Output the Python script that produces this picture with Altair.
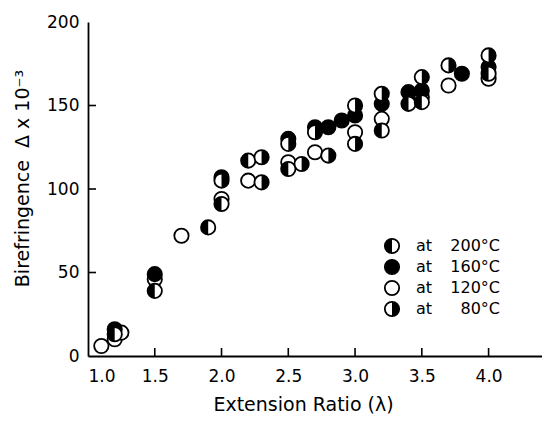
import altair as alt
import pandas as pd

# ---- data ----
x160 = [1.2, 1.5, 2.0, 2.5, 2.7, 2.8, 2.9, 3.0, 3.2, 3.4, 3.5, 3.8, 4.0]
y160 = [16, 49, 107, 130, 137, 137, 141, 144, 151, 158, 159, 169, 173]

x120 = [1.1, 1.2, 1.25, 1.5, 1.7, 2.0, 2.2, 2.5, 2.7, 3.0, 3.2, 3.5, 3.7, 4.0]
y120 = [6, 10, 14, 46, 72, 94, 105, 116, 122, 134, 142, 155, 162, 166]

x200 = [1.2, 1.5, 1.9, 2.0, 2.2, 2.5, 3.2, 3.4, 3.5, 4.0]
y200 = [13, 39, 77, 91, 117, 112, 135, 151, 152, 169]

x80 = [2.0, 2.3, 2.3, 2.5, 2.6, 2.7, 2.8, 3.0, 3.0, 3.2, 3.5, 3.7, 4.0]
y80 = [105, 119, 104, 127, 115, 134, 120, 127, 150, 157, 167, 174, 180]

series_names = ["200", "160", "120", "80"]
legend_temps = ["200°C", "160°C", "120°C", "80°C"]
x_ticks = [1.5, 2.0, 2.5, 3.0, 3.5, 4.0]
y_ticks = [50, 100, 150]
x_labels = [1.0, 1.5, 2.0, 2.5, 3.0, 3.5, 4.0]
y_labels = [0, 50, 100, 150, 200]

rows = []
for s, xs, ys in [("120", x120, y120), ("160", x160, y160),
                  ("200", x200, y200), ("80", x80, y80)]:
    for a, b in zip(xs, ys):
        rows.append({"x": a, "y": b, "series": s})
df = pd.DataFrame(rows)

W, H = 454, 334
FONT = "DejaVu Sans"
SIZE = 205
LEFT_HALF = "M0,-1A1,1,0,0,0,0,1Z"
RIGHT_HALF = "M0,-1A1,1,0,0,1,0,1Z"

xscale = alt.Scale(domain=[1.0, 4.4], nice=False, zero=False)
yscale = alt.Scale(domain=[0, 200], nice=False, zero=False)
XTITLE = "Extension Ratio (λ)"
YTITLE = "Birefringence\u00a0\u00a0Δ\u00a0x\u00a010⁻³"

xaxis = alt.Axis(values=x_labels, format=".1f", ticks=False, grid=False,
                 labelPadding=12, titlePadding=11, titleX=215)
yaxis = alt.Axis(values=y_labels, format="d", ticks=False, grid=False,
                 labelPadding=9, titlePadding=14, titleY=156)


def X(field):
    return alt.X(field, scale=xscale, axis=xaxis, title=XTITLE)


def Y(field):
    return alt.Y(field, scale=yscale, axis=yaxis, title=YTITLE)


fill_scale = alt.Scale(domain=series_names, range=["white", "black", "white", "white"])
shape_scale = alt.Scale(domain=["200", "80"], range=[LEFT_HALF, RIGHT_HALF])

circles = alt.Chart(df).mark_point(
    shape="circle", filled=True, size=SIZE, stroke="black", strokeWidth=1.8,
    opacity=1, fillOpacity=1
).encode(
    x=X("x:Q"), y=Y("y:Q"),
    fill=alt.Fill("series:N", scale=fill_scale, legend=None)
)

halves = alt.Chart(df).transform_filter(
    alt.FieldOneOfPredicate(field="series", oneOf=["200", "80"])
).mark_point(
    filled=True, size=SIZE, fill="black", strokeWidth=0, opacity=1, fillOpacity=1
).encode(
    x=X("x:Q"), y=Y("y:Q"),
    shape=alt.Shape("series:N", scale=shape_scale, legend=None)
)

xt = alt.Chart(pd.DataFrame({"t": x_ticks})).mark_rule(
    color="black", strokeWidth=1.6
).encode(x=X("t:Q"), y=alt.value(H), y2=alt.value(H - 8))

yt = alt.Chart(pd.DataFrame({"t": y_ticks})).mark_rule(
    color="black", strokeWidth=1.6
).encode(y=Y("t:Q"), x=alt.value(0), x2=alt.value(8))

# ---- hand-drawn legend ----
legend_layers = []
leg_x, leg_y0, leg_dy = 304, 224, 21
leg_fill = ["white", "black", "white", "white"]
leg_half = [LEFT_HALF, None, None, RIGHT_HALF]
one = pd.DataFrame({"k": [0]})
for i, (temp, f, hshape) in enumerate(zip(legend_temps, leg_fill, leg_half)):
    yy = leg_y0 + i * leg_dy
    legend_layers.append(
        alt.Chart(one).mark_point(shape="circle", filled=True, size=SIZE,
                                  fill=f, stroke="black", strokeWidth=1.8,
                                  opacity=1, fillOpacity=1)
        .encode(x=alt.value(leg_x), y=alt.value(yy)))
    if hshape:
        legend_layers.append(
            alt.Chart(one).mark_point(shape=hshape, filled=True, size=SIZE,
                                      fill="black", strokeWidth=0, opacity=1,
                                      fillOpacity=1)
            .encode(x=alt.value(leg_x), y=alt.value(yy)))
    legend_layers.append(
        alt.Chart(pd.DataFrame({"label": ["at"]})).mark_text(
            font=FONT, fontSize=16, align="left", baseline="middle", color="black")
        .encode(x=alt.value(leg_x + 24), y=alt.value(yy), text="label:N"))
    legend_layers.append(
        alt.Chart(pd.DataFrame({"label": [temp]})).mark_text(
            font=FONT, fontSize=16, align="right", baseline="middle", color="black")
        .encode(x=alt.value(leg_x + 108), y=alt.value(yy), text="label:N"))

chart = alt.layer(circles, halves, xt, yt, *legend_layers).properties(
    width=W, height=H,
    autosize=alt.AutoSizeParams(type="none"),
    padding={"left": 80, "top": 14, "right": 0, "bottom": 60},
    background="white",
).configure_view(stroke=None).configure_axis(
    domainColor="black", domainWidth=1.8,
    labelFont=FONT, labelFontSize=17, labelColor="black",
    titleFont=FONT, titleFontSize=19, titleFontWeight="normal", titleColor="black",
)

chart.save("out.html", embed_options={"renderer": "svg", "actions": False})
